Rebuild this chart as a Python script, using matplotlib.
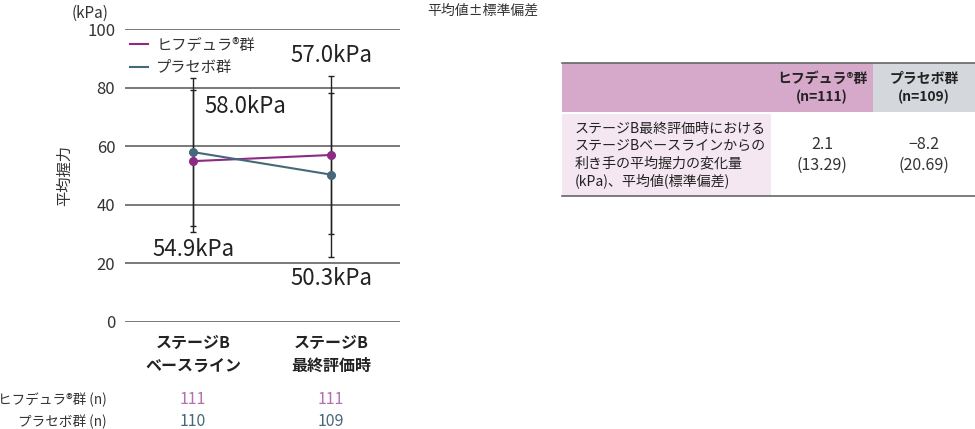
import numpy as np
import matplotlib.pyplot as plt
from matplotlib.patches import Rectangle
from matplotlib.lines import Line2D

plt.rcParams['font.family'] = ['Noto Sans CJK JP', 'DejaVu Sans']

# データ
visits = ['ステージB\nベースライン', 'ステージB\n最終評価時']
hyf_mean = [54.9, 57.0]
hyf_sd = [24.3, 27.0]
pla_mean = [58.0, 50.3]
pla_sd = [25.4, 28.0]
hyf_n = [111, 111]
pla_n = [110, 109]
yticks = [0, 20, 40, 60, 80, 100]

tbl_cols = ['ヒフデュラ®群\n(n=111)', 'プラセボ群\n(n=109)']
tbl_row = 'ステージB最終評価時における\nステージBベースラインからの\n利き手の平均握力の変化量\n(kPa)、平均値(標準偏差)'
tbl_mean = ['2.1', '−8.2']
tbl_sd = ['13.29', '20.69']

c_hyf = '#8c2a86'
c_hyf_n = '#b46fb0'
c_pla = '#45687a'
c_grid = '#555555'
c_text = '#333333'

W, H = 975, 429
fig = plt.figure(figsize=(W / 100, H / 100), dpi=100)

# 折れ線グラフ
ax = fig.add_axes([125 / W, (H - 322) / H, 275 / W, 293 / H])
x = np.arange(len(visits))
ax.set_xlim(-0.493, 1.5)
ax.set_ylim(0, 100)
ax.set_yticks(yticks)
for t in yticks:
    ax.axhline(t, color=c_grid, lw=1.1, zorder=1)
for s in ax.spines.values():
    s.set_visible(False)
ax.tick_params(axis='y', length=0, pad=7, labelsize=12, labelcolor=c_text)
ax.set_xticks([])

ax.errorbar(x, hyf_mean, yerr=hyf_sd, fmt='none', ecolor='#222222',
            elinewidth=1, capsize=2, capthick=1, zorder=2)
ax.errorbar(x, pla_mean, yerr=pla_sd, fmt='none', ecolor='#222222',
            elinewidth=1, capsize=2, capthick=1, zorder=2)
ax.plot(x, hyf_mean, '-o', color=c_hyf, lw=1.5, ms=5.5, zorder=3)
ax.plot(x, pla_mean, '-o', color=c_pla, lw=1.5, ms=5.5, zorder=3)

handles = [Line2D([], [], color=c_hyf, lw=1.5),
           Line2D([], [], color=c_pla, lw=1.5)]
leg = ax.legend(handles, ['ヒフデュラ®群', 'プラセボ群'], loc='upper left',
                bbox_to_anchor=(-0.005, 0.995), frameon=False,
                handlelength=1.2, handletextpad=0.55, labelspacing=0.35,
                fontsize=11, borderaxespad=0)
for t in leg.get_texts():
    t.set_color(c_text)

# 値ラベル
big = dict(fontsize=16, color='#222222', ha='center', va='center')
ax.text(x[1], hyf_mean[1] + 34.1, f'{hyf_mean[1]:.1f}kPa', **big)
ax.text(x[0] + 0.377, pla_mean[0] + 15.4, f'{pla_mean[0]:.1f}kPa', **big)
ax.text(x[0], hyf_mean[0] - 30.3, f'{hyf_mean[0]:.1f}kPa', **big)
ax.text(x[1], pla_mean[1] - 35.6, f'{pla_mean[1]:.1f}kPa', **big)

ax.text(-0.06, 1.055, '(kPa)', transform=ax.transAxes, ha='right',
        va='center', fontsize=11, color=c_text)
ax.set_ylabel('平均握力', fontsize=11, color=c_text, labelpad=10)

# カテゴリとn数
for xi, lab in zip(x, visits):
    ax.text(xi, -4.5, lab, ha='center', va='top', fontsize=11.5,
            fontweight='bold', color='#222222', linespacing=1.55)
for xi, a, b in zip(x, hyf_n, pla_n):
    ax.text(xi, -26.5, str(a), ha='center', va='center', fontsize=11.5, color=c_hyf_n)
    ax.text(xi, -34.0, str(b), ha='center', va='center', fontsize=11.5, color=c_pla)
ax.text(-0.625, -26.5, 'ヒフデュラ®群 (n)', ha='right', va='center', fontsize=9.8, color=c_text)
ax.text(-0.625, -34.0, 'プラセボ群 (n)', ha='right', va='center', fontsize=9.8, color=c_text)

fig.text(483 / W, 1 - 11 / H, '平均値±標準偏差', ha='center', va='center',
         fontsize=10, color=c_text)

# 表
tx = fig.add_axes([0, 0, 1, 1])
tx.set_xlim(0, W)
tx.set_ylim(H, 0)
tx.axis('off')
tx.add_patch(Rectangle((562, 63), 311, 49, color='#d6a8c9', lw=0))
tx.add_patch(Rectangle((873, 63), 102, 49, color='#d4d7db', lw=0))
tx.add_patch(Rectangle((562, 114), 209, 82, color='#f4e7f1', lw=0))
tx.plot([562, 975], [63, 63], color='#666666', lw=1.2)
tx.plot([562, 975], [196, 196], color='#666666', lw=1.2)

col_x = [822, 924]
for cx, lab in zip(col_x, tbl_cols):
    tx.text(cx, 88, lab, ha='center', va='center', fontsize=10,
            fontweight='bold', color='#222222', linespacing=1.35)
tx.text(575, 155, tbl_row, ha='left', va='center', fontsize=10.1,
        color='#222222', linespacing=1.3)
for cx, m, s in zip(col_x, tbl_mean, tbl_sd):
    tx.text(cx, 155, f'{m}\n({s})', ha='center', va='center', fontsize=11.5,
            color=c_text, linespacing=1.25)

fig.savefig('out.png', dpi=100)
